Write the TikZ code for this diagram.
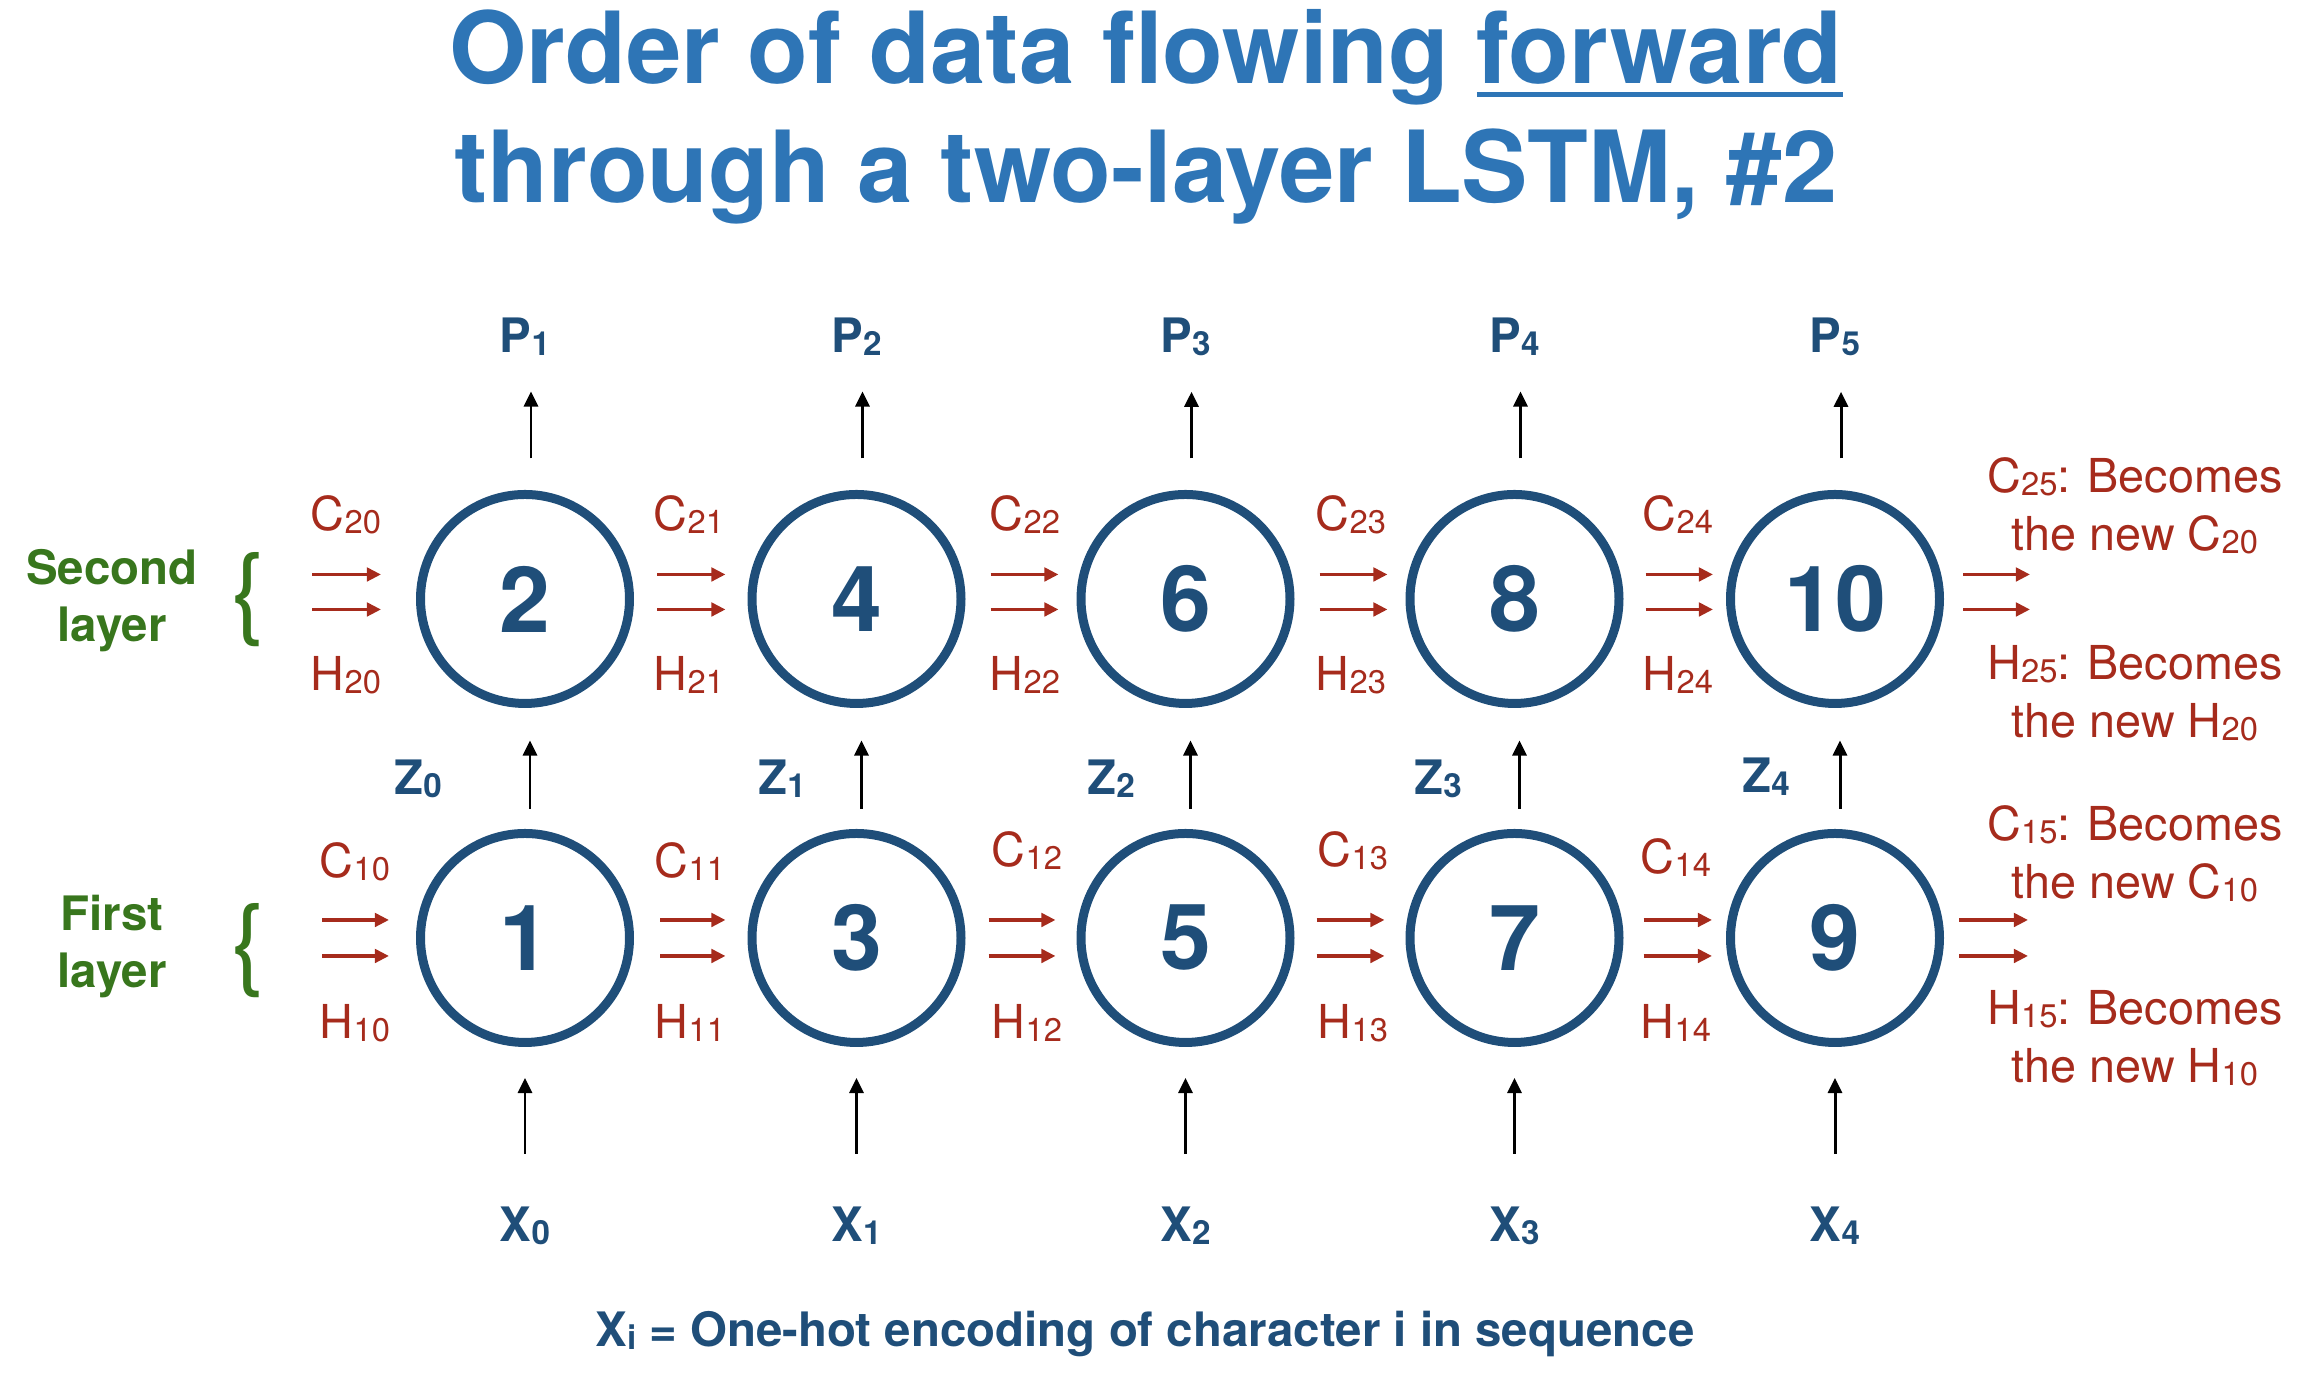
\documentclass[tikz,border=0pt]{standalone}
\usepackage{fontspec}
\setmainfont{TeX Gyre Heros}
\usepackage{graphicx}
\usetikzlibrary{arrows.meta}
\definecolor{TitleBlue}{HTML}{2E75B6}
\definecolor{CellBlue}{HTML}{1F4E79}
\definecolor{StateRed}{HTML}{A62B1C}
\definecolor{LayerGreen}{HTML}{38761D}
\newcommand{\lsub}[1]{\raisebox{-0.8pt}{\scalebox{0.7}{#1}}}
\newsavebox{\fwdbox}
\newcommand{\fwdline}[1]{\sbox{\fwdbox}{#1}\rlap{\rule[-3.98pt]{\wd\fwdbox}{1.42pt}}\usebox{\fwdbox}}

\begin{document}
\begin{tikzpicture}[
  cell/.style={circle, draw=CellBlue, line width=2.56pt, minimum size=2.09cm, inner sep=0pt, text=CellBlue, font=\fontsize{26}{30}\selectfont\bfseries},
  vec/.style={inner sep=0pt, anchor=base, text=CellBlue, font=\fontsize{13.5}{16}\selectfont\bfseries},
  statelbl/.style={inner sep=0pt, anchor=base, text=StateRed, font=\fontsize{13.3}{16}\selectfont},
  note/.style={inner sep=0pt, anchor=base, align=center, text=StateRed, font=\fontsize{13.3}{16.5}\selectfont},
  layerlbl/.style={inner sep=0pt, anchor=base, align=center, text=LayerGreen, font=\fontsize{13.5}{16.4}\selectfont\bfseries},
  brace/.style={inner sep=0pt, text=LayerGreen, font=\fontsize{28.5}{30}\selectfont},
  feed/.style={-{Triangle[length=4.3pt, width=4pt]}, line width=0.85pt, draw=black},
  flow/.style={-{Triangle[length=4pt, width=3.8pt]}, line width=1.1pt, draw=StateRed}
]
\useasboundingbox (0,0) rectangle (23.14,13.78);

% title (base = last line)
\node[anchor=base, align=center, inner sep=0pt, text=TitleBlue, font=\fontsize{28.3}{34.1}\selectfont\bfseries] (title) at (11.46,11.75)
  {Order of data flowing \fwdline{forward}\\through a two-layer LSTM, \#2};

% cells, second layer on top
\node[cell] (n2) at (5.25,7.79) {2};
\node[cell] (n4) at (8.565,7.79) {4};
\node[cell] (n6) at (11.855,7.79) {6};
\node[cell] (n8) at (15.145,7.79) {8};
\node[cell] (n10) at (18.35,7.79) {10};
\node[cell] (n1) at (5.25,4.40) {1};
\node[cell] (n3) at (8.565,4.40) {3};
\node[cell] (n5) at (11.855,4.40) {5};
\node[cell] (n7) at (15.145,4.40) {7};
\node[cell] (n9) at (18.35,4.40) {9};

% outputs, hidden inputs, one-hot inputs
\node[vec] (p1) at (5.25,10.25) {P\lsub{1}};
\node[vec] (p2) at (8.565,10.25) {P\lsub{2}};
\node[vec] (p3) at (11.855,10.25) {P\lsub{3}};
\node[vec] (p4) at (15.145,10.25) {P\lsub{4}};
\node[vec] (p5) at (18.35,10.25) {P\lsub{5}};
\node[vec] (z0) at (4.18,5.83) {Z\lsub{0}};
\node[vec] (z1) at (7.82,5.83) {Z\lsub{1}};
\node[vec] (z2) at (11.11,5.83) {Z\lsub{2}};
\node[vec] (z3) at (14.38,5.83) {Z\lsub{3}};
\node[vec] (z4) at (17.66,5.85) {Z\lsub{4}};
\node[vec] (x0) at (5.25,1.36) {X\lsub{0}};
\node[vec] (x1) at (8.565,1.36) {X\lsub{1}};
\node[vec] (x2) at (11.855,1.36) {X\lsub{2}};
\node[vec] (x3) at (15.145,1.36) {X\lsub{3}};
\node[vec] (x4) at (18.35,1.36) {X\lsub{4}};
\node[vec] (foot) at (11.45,0.31) {X\lsub{i} = One-hot encoding of character i in sequence};

% layer names
\node[layerlbl] (second) at (1.12,7.36) {Second\\layer};
\node[layerlbl] (first) at (1.12,3.90) {First\\layer};
\node[brace] (br2) at (2.48,7.78) {\{};
\node[brace] (br1) at (2.48,4.27) {\{};

% black arrows
\draw[feed, shorten <=0.315cm, shorten >=0.35cm] ([xshift=.06cm]n2.north) -- ([xshift=.06cm]p1.south);
\draw[feed, shorten <=0.315cm, shorten >=0.35cm] ([xshift=.06cm]n4.north) -- ([xshift=.06cm]p2.south);
\draw[feed, shorten <=0.315cm, shorten >=0.35cm] ([xshift=.06cm]n6.north) -- ([xshift=.06cm]p3.south);
\draw[feed, shorten <=0.315cm, shorten >=0.35cm] ([xshift=.06cm]n8.north) -- ([xshift=.06cm]p4.south);
\draw[feed, shorten <=0.315cm, shorten >=0.35cm] ([xshift=.06cm]n10.north) -- ([xshift=.06cm]p5.south);
\draw[feed, shorten <=0.20cm, shorten >=0.325cm] ([xshift=.05cm]n1.north) -- ([xshift=.05cm]n2.south);
\draw[feed, shorten <=0.20cm, shorten >=0.325cm] ([xshift=.05cm]n3.north) -- ([xshift=.05cm]n4.south);
\draw[feed, shorten <=0.20cm, shorten >=0.325cm] ([xshift=.05cm]n5.north) -- ([xshift=.05cm]n6.south);
\draw[feed, shorten <=0.20cm, shorten >=0.325cm] ([xshift=.05cm]n7.north) -- ([xshift=.05cm]n8.south);
\draw[feed, shorten <=0.20cm, shorten >=0.325cm] ([xshift=.05cm]n9.north) -- ([xshift=.05cm]n10.south);
\draw[feed, shorten <=0.53cm, shorten >=0.31cm] (x0.north) -- (n1.south);
\draw[feed, shorten <=0.53cm, shorten >=0.31cm] (x1.north) -- (n3.south);
\draw[feed, shorten <=0.53cm, shorten >=0.31cm] (x2.north) -- (n5.south);
\draw[feed, shorten <=0.53cm, shorten >=0.31cm] (x3.north) -- (n7.south);
\draw[feed, shorten <=0.53cm, shorten >=0.31cm] (x4.north) -- (n9.south);

% cell and hidden states, second layer
\coordinate (in2) at (3.12,7.79);
\coordinate (out10) at (20.30,7.79);
\draw[flow, shorten >=0.35cm] ([yshift=.245cm]in2) -- ([yshift=.245cm]n2.west);
\draw[flow, shorten >=0.35cm] ([yshift=-.105cm]in2) -- ([yshift=-.105cm]n2.west);
\draw[flow, shorten <=0.23cm, shorten >=0.22cm] ([yshift=.245cm]n2.east) -- ([yshift=.245cm]n4.west);
\draw[flow, shorten <=0.23cm, shorten >=0.22cm] ([yshift=-.105cm]n2.east) -- ([yshift=-.105cm]n4.west);
\draw[flow, shorten <=0.25cm, shorten >=0.18cm] ([yshift=.245cm]n4.east) -- ([yshift=.245cm]n6.west);
\draw[flow, shorten <=0.25cm, shorten >=0.18cm] ([yshift=-.105cm]n4.east) -- ([yshift=-.105cm]n6.west);
\draw[flow, shorten <=0.25cm, shorten >=0.18cm] ([yshift=.245cm]n6.east) -- ([yshift=.245cm]n8.west);
\draw[flow, shorten <=0.25cm, shorten >=0.18cm] ([yshift=-.105cm]n6.east) -- ([yshift=-.105cm]n8.west);
\draw[flow, shorten <=0.22cm, shorten >=0.13cm] ([yshift=.245cm]n8.east) -- ([yshift=.245cm]n10.west);
\draw[flow, shorten <=0.22cm, shorten >=0.13cm] ([yshift=-.105cm]n8.east) -- ([yshift=-.105cm]n10.west);
\draw[flow, shorten <=0.19cm] ([yshift=.245cm]n10.east) -- ([yshift=.245cm]out10);
\draw[flow, shorten <=0.19cm] ([yshift=-.105cm]n10.east) -- ([yshift=-.105cm]out10);

% cell and hidden states, first layer
\coordinate (in1) at (3.22,4.40);
\coordinate (out9) at (20.28,4.40);
\draw[flow, shorten >=0.27cm] ([yshift=.18cm]in1) -- ([yshift=.18cm]n1.west);
\draw[flow, shorten >=0.27cm] ([yshift=-.18cm]in1) -- ([yshift=-.18cm]n1.west);
\draw[flow, shorten <=0.26cm, shorten >=0.22cm] ([yshift=.18cm]n1.east) -- ([yshift=.18cm]n3.west);
\draw[flow, shorten <=0.26cm, shorten >=0.22cm] ([yshift=-.18cm]n1.east) -- ([yshift=-.18cm]n3.west);
\draw[flow, shorten <=0.23cm, shorten >=0.21cm] ([yshift=.18cm]n3.east) -- ([yshift=.18cm]n5.west);
\draw[flow, shorten <=0.23cm, shorten >=0.21cm] ([yshift=-.18cm]n3.east) -- ([yshift=-.18cm]n5.west);
\draw[flow, shorten <=0.22cm, shorten >=0.21cm] ([yshift=.18cm]n5.east) -- ([yshift=.18cm]n7.west);
\draw[flow, shorten <=0.22cm, shorten >=0.21cm] ([yshift=-.18cm]n5.east) -- ([yshift=-.18cm]n7.west);
\draw[flow, shorten <=0.20cm, shorten >=0.14cm] ([yshift=.18cm]n7.east) -- ([yshift=.18cm]n9.west);
\draw[flow, shorten <=0.20cm, shorten >=0.14cm] ([yshift=-.18cm]n7.east) -- ([yshift=-.18cm]n9.west);
\draw[flow, shorten <=0.15cm] ([yshift=.18cm]n9.east) -- ([yshift=.18cm]out9);
\draw[flow, shorten <=0.15cm] ([yshift=-.18cm]n9.east) -- ([yshift=-.18cm]out9);

% state labels
\node[statelbl] (c20) at (3.46,8.47) {C\lsub{20}};
\node[statelbl] (h20) at (3.46,6.87) {H\lsub{20}};
\node[statelbl] (c21) at (6.89,8.47) {C\lsub{21}};
\node[statelbl] (h21) at (6.89,6.87) {H\lsub{21}};
\node[statelbl] (c22) at (10.25,8.47) {C\lsub{22}};
\node[statelbl] (h22) at (10.25,6.87) {H\lsub{22}};
\node[statelbl] (c23) at (13.51,8.47) {C\lsub{23}};
\node[statelbl] (h23) at (13.51,6.87) {H\lsub{23}};
\node[statelbl] (c24) at (16.78,8.47) {C\lsub{24}};
\node[statelbl] (h24) at (16.78,6.87) {H\lsub{24}};
\node[statelbl] (c10) at (3.55,5.00) {C\lsub{10}};
\node[statelbl] (h10) at (3.55,3.39) {H\lsub{10}};
\node[statelbl] (c11) at (6.90,5.00) {C\lsub{11}};
\node[statelbl] (h11) at (6.90,3.39) {H\lsub{11}};
\node[statelbl] (c12) at (10.27,5.11) {C\lsub{12}};
\node[statelbl] (h12) at (10.27,3.39) {H\lsub{12}};
\node[statelbl] (c13) at (13.53,5.11) {C\lsub{13}};
\node[statelbl] (h13) at (13.53,3.39) {H\lsub{13}};
\node[statelbl] (c14) at (16.76,5.04) {C\lsub{14}};
\node[statelbl] (h14) at (16.76,3.39) {H\lsub{14}};

% what happens to the last states (base = last line)
\node[note] (c25) at (21.35,8.27) {C\lsub{25}: Becomes\\the new C\lsub{20}};
\node[note] (h25) at (21.35,6.40) {H\lsub{25}: Becomes\\the new H\lsub{20}};
\node[note] (c15) at (21.35,4.79) {C\lsub{15}: Becomes\\the new C\lsub{10}};
\node[note] (h15) at (21.35,2.95) {H\lsub{15}: Becomes\\the new H\lsub{10}};
\end{tikzpicture}
\end{document}
